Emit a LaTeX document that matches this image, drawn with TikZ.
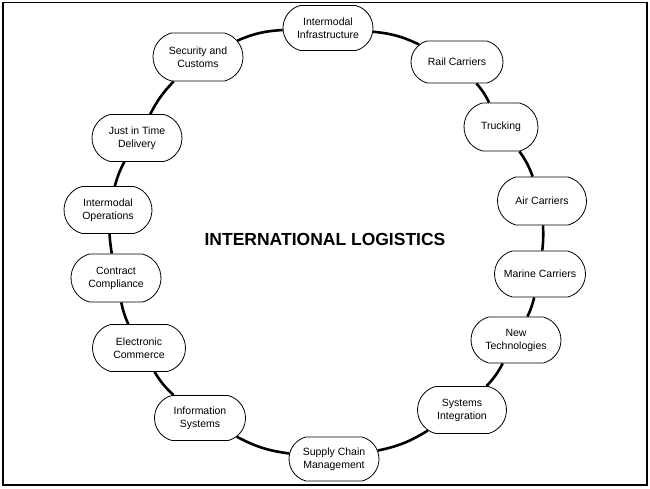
\documentclass[tikz,border=0pt]{standalone}
\usepackage{fontspec}
\setmainfont{Liberation Sans}
\usetikzlibrary{shapes.misc}
\begin{document}
\begin{tikzpicture}[x=1pt,y=-1pt,
  topic/.style={draw=black, line width=0.8pt, fill=white, rounded rectangle,
    rounded rectangle arc length=150,
    minimum width=92pt, minimum height=46pt, inner sep=1pt, align=center,
    font=\fontsize{10.5}{13}\selectfont},
  ring/.style={line width=2.6pt, black},
  frame/.style={line width=1.8pt, black},
  title/.style={font=\fontsize{17.5}{20}\selectfont\bfseries}]
\useasboundingbox (0,0) rectangle (650,488);
\draw[frame] (3,2.5) rectangle (647,485);
\node[title] (T) at (325,239) {INTERNATIONAL LOGISTICS};
\node[topic, minimum height=45pt] (IIn) at (328,28) {Intermodal\\Infrastructure};
\node[topic, minimum width=94pt, minimum height=42pt] (Rail) at (457,62) {Rail Carriers};
\node[topic, minimum width=76pt, minimum height=48pt] (Truck) at (501,127) {Trucking};
\node[topic, minimum width=91pt, minimum height=48pt] (Air) at (542,201) {Air Carriers};
\node[topic, minimum width=93pt] (Marine) at (540,274) {Marine Carriers};
\node[topic] (NewT) at (516,340) {New\\Technologies};
\node[topic, minimum width=91pt, minimum height=47pt] (SysI) at (462,410) {Systems\\Integration};
\node[topic, minimum height=44pt] (SCM) at (334,459) {Supply Chain\\Management};
\node[topic, minimum width=93pt, minimum height=45pt] (InfoS) at (200,418) {Information\\Systems};
\node[topic, minimum width=95pt, minimum height=47pt] (EC) at (139,348) {Electronic\\Commerce};
\node[topic, minimum height=48pt] (CC) at (116,278) {Contract\\Compliance};
\node[topic, minimum width=90pt, minimum height=47pt] (IO) at (108,210) {Intermodal\\Operations};
\node[topic, minimum height=47pt] (JIT) at (137,138) {Just in Time\\Delivery};
\node[topic, minimum height=48pt] (SC) at (198,57) {Security and\\Customs};
\draw[ring] (IIn) to[bend left=10] (Rail);
\draw[ring] (Rail) to[bend left=8] (Truck);
\draw[ring] (Truck) to[bend left=8] (Air);
\draw[ring] (Air) to[bend left=4] (Marine);
\draw[ring] (Marine) to[bend left=6] (NewT);
\draw[ring] (NewT) to[bend left=8] (SysI);
\draw[ring] (SysI) to[bend left=10] (SCM);
\draw[ring] (SCM) to[bend left=10] (InfoS);
\draw[ring] (InfoS) to[bend left=8] (EC);
\draw[ring] (EC) to[bend left=6] (CC);
\draw[ring] (CC) to[bend left=3] (IO);
\draw[ring] (IO) to[bend left=6] (JIT);
\draw[ring] (JIT) to[bend left=8] (SC);
\draw[ring] (SC) to[bend left=10] (IIn);
\end{tikzpicture}
\end{document}
